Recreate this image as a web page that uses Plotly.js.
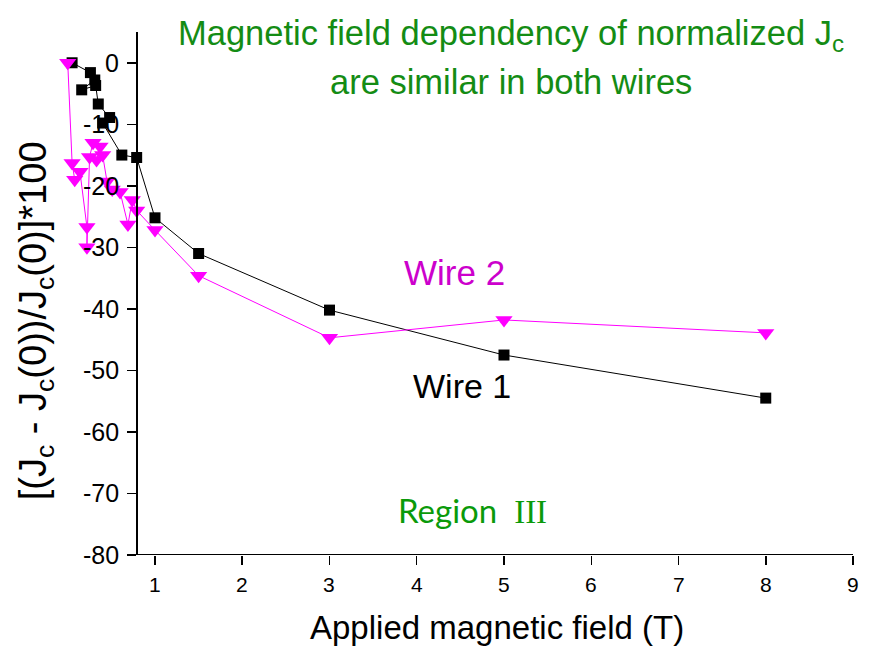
<!DOCTYPE html>
<html>
<head>
<meta charset="utf-8">
<script src="https://cdn.plot.ly/plotly-3.0.1.min.js"></script>
<style>html,body{margin:0;padding:0;background:#fff;}#chart{width:874px;height:650px;}</style>
</head>
<body>
<div id="chart"></div>
<script>
// Wire 1 (black squares)
const wire1Field = [0.05, 0.26, 0.31, 0.16, 0.32, 0.35, 0.48, 0.40, 0.62, 0.79, 1.0, 1.5, 3.0, 5.0, 8.0];
const wire1Value = [0.0, -1.6, -2.8, -4.4, -3.7, -6.7, -8.9, -9.8, -15.0, -15.4, -25.2, -31.0, -40.2, -47.5, -54.5];
// Wire 2 (magenta down triangles)
const wire2Field = [0.0, 0.05, 0.08, 0.14, 0.22, 0.22, 0.25, 0.29, 0.37, 0.33, 0.40, 0.45, 0.51, 0.60, 0.69, 0.74, 0.79, 1.0, 1.5, 3.0, 5.0, 8.0];
const wire2Value = [0.0, -16.3, -19.0, -17.7, -26.7, -30.0, -15.3, -13.0, -13.6, -15.8, -15.0, -19.3, -20.6, -21.0, -26.3, -22.3, -24.0, -27.2, -34.6, -44.7, -41.8, -43.9];

const xTicks = [1, 2, 3, 4, 5, 6, 7, 8, 9];
const xMinorTicks = [1.5, 2.5, 3.5, 4.5, 5.5, 6.5, 7.5, 8.5];
const yTicks = [0, -10, -20, -30, -40, -50, -60, -70, -80];
const yMinorTicks = [5, -5, -15, -25, -35, -45, -55, -65, -75];

const FONT = 'Liberation Sans, Arial, sans-serif';
const GREEN = '#148c14';
const MAGENTA = '#ff00ff';

const traces = [
  {
    x: wire1Field, y: wire1Value, type: 'scatter', mode: 'lines+markers',
    line: {color: '#000', width: 1},
    marker: {symbol: 'square', size: 11, color: '#000'},
    cliponaxis: false, showlegend: false
  },
  {
    x: wire2Field, y: wire2Value, type: 'scatter', mode: 'lines+markers',
    line: {color: MAGENTA, width: 1},
    marker: {symbol: 'triangle-down', size: 15, color: MAGENTA},
    cliponaxis: false, showlegend: false
  }
];

const xRange = [-0.146, 9];
const yRange = [-80, 5];
const yAxisPos = (137 - 55) / 798;
const axisX0 = 0.805;
function ann(x, y, text, font, extra) {
  return Object.assign({xref: 'paper', yref: 'paper', x: x, y: y, text: text, showarrow: false,
    xanchor: 'center', yanchor: 'middle', font: font}, extra || {});
}
// tick labels as annotations placed through the axis scales
const yTickLabels = yTicks.map(v => ({xref: 'paper', yref: 'y', x: (121 - 55) / 798, y: v, text: String(v),
  showarrow: false, xanchor: 'right', yanchor: 'middle', font: {size: 25, color: '#000', family: FONT}}));
const xTickLabels = xTicks.map(v => ({xref: 'x', yref: 'paper', x: v, y: (555 - 584) / 523, text: String(v),
  showarrow: false, xanchor: 'center', yanchor: 'middle', font: {size: 21, color: '#000', family: FONT}}));

const layout = {
  width: 874, height: 650,
  margin: {l: 55, r: 21, t: 32, b: 95},
  paper_bgcolor: '#fff', plot_bgcolor: '#fff',
  font: {family: FONT, color: '#000'},
  xaxis: {
    range: xRange, showgrid: false, zeroline: false, showline: false, showticklabels: false,
    tickmode: 'array', tickvals: xTicks,
    ticks: 'outside', ticklen: 9, tickwidth: 1.5, tickcolor: '#000'
  },
  xaxis2: {
    overlaying: 'x', anchor: 'y', side: 'bottom',
    range: xRange, showgrid: false, zeroline: false, showline: false, showticklabels: false,
    tickmode: 'array', tickvals: xMinorTicks,
    ticks: 'outside', ticklen: 5, tickwidth: 1.5, tickcolor: '#000'
  },
  yaxis: {
    range: yRange, showgrid: false, zeroline: false,
    anchor: 'free', position: yAxisPos,
    showline: true, linecolor: '#000', linewidth: 2, showticklabels: false,
    tickmode: 'array', tickvals: yTicks,
    ticks: 'outside', ticklen: 9, tickwidth: 1.5, tickcolor: '#000'
  },
  yaxis2: {
    overlaying: 'y', anchor: 'free', position: yAxisPos, side: 'left',
    range: yRange, showgrid: false, zeroline: false, showline: false, showticklabels: false,
    tickmode: 'array', tickvals: yMinorTicks,
    ticks: 'outside', ticklen: 5, tickwidth: 1.5, tickcolor: '#000'
  },
  shapes: [
    {type: 'line', xref: 'x', yref: 'y', x0: axisX0, x1: 9, y0: -80, y1: -80, line: {color: '#000', width: 2}, layer: 'above'}
  ],
  annotations: yTickLabels.concat(xTickLabels, [
    ann(0.572, 0.994, 'Magnetic field dependency of normalized J<sub>c</sub>', {size: 34.5, color: GREEN}),
    ann(0.572, 0.904, 'are similar in both wires', {size: 34.5, color: GREEN}),
    ann(0.501, 0.541, 'Wire 2', {size: 35, color: '#cc00cc'}),
    ann(0.510, 0.323, 'Wire 1', {size: 34, color: '#000'}),
    ann(0.5226, 0.086, "Region  <span style=\"font-family:Liberation Serif, serif\">III</span>", {size: 33, color: '#0a9a0a', family: 'Lato, sans-serif'}),
    ann(0.554, -0.138, 'Applied magnetic field (T)', {size: 33, color: '#000'}),
    ann(-0.0238, 0.447, '[(J<sub>c</sub> - J<sub>c</sub>(0))/J<sub>c</sub>(0)]*100', {size: 38, color: '#000'}, {textangle: -90})
  ])
};

Plotly.newPlot('chart', traces, layout, {displayModeBar: false, staticPlot: true});
</script>
</body>
</html>
